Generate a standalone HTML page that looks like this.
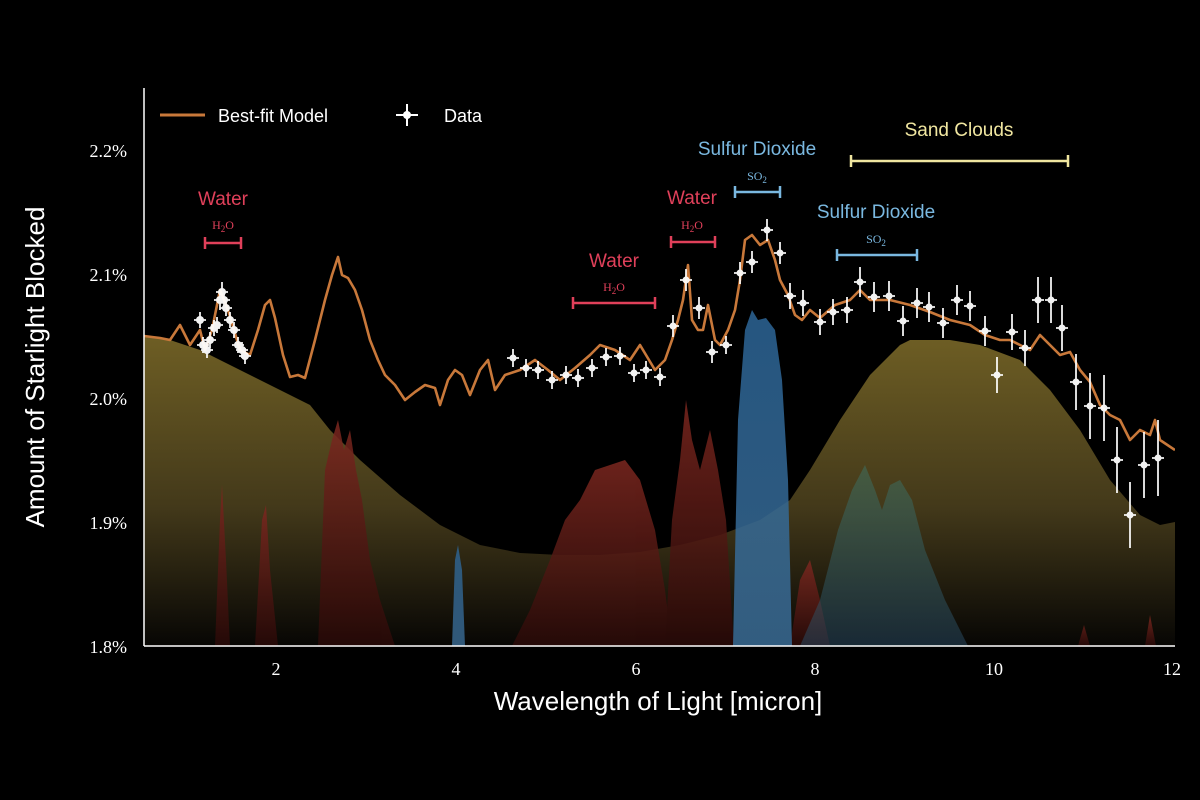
<!DOCTYPE html>
<html><head><meta charset="utf-8"><style>
html,body{margin:0;padding:0;background:#000;}
svg{display:block}
.s{font-family:"Liberation Sans","DejaVu Sans",sans-serif}
.r{font-family:"Liberation Serif",serif}
</style></head><body>
<svg width="1200" height="800" viewBox="0 0 1200 800" xmlns="http://www.w3.org/2000/svg">
<defs>
<linearGradient id="sand" x1="0" y1="0" x2="0" y2="1"><stop offset="0" stop-color="#6e5e24"/><stop offset="0.55" stop-color="#43391a"/><stop offset="1" stop-color="#070604"/></linearGradient>
<linearGradient id="red" x1="0" y1="0" x2="0" y2="1"><stop offset="0" stop-color="#7e2820"/><stop offset="1" stop-color="#2a0a08"/></linearGradient>
<linearGradient id="blue" x1="0" y1="0" x2="0" y2="1"><stop offset="0" stop-color="#2c6596"/><stop offset="1" stop-color="#3a6c96"/></linearGradient>
<linearGradient id="teal" x1="0" y1="0" x2="0" y2="1"><stop offset="0" stop-color="#3d7466"/><stop offset="1" stop-color="#2a4c66"/></linearGradient>
<clipPath id="c"><rect x="144" y="88" width="1031" height="558"/></clipPath>
</defs>
<rect width="1200" height="800" fill="#000"/>
<g clip-path="url(#c)">
<path fill="url(#sand)" d="M144,336 L170,340 200,350 240,370 280,390 310,405 330,430 360,460 400,495 440,525 480,545 520,553 560,555 600,555 640,552 680,545 720,535 760,520 790,500 810,470 840,420 870,375 900,345 910,340 950,340 980,345 1020,360 1050,390 1080,430 1110,480 1140,515 1160,525 1175,522 L1175,646 144,646Z"/>
<g fill="url(#red)" opacity="0.85">
<path d="M215,646 L220,520 222,485 226,560 230,646Z"/>
<path d="M255,646 L262,520 266,505 270,570 278,646Z"/>
<path d="M318,646 L325,470 332,440 338,420 344,450 350,430 356,470 362,500 370,560 380,600 395,646Z"/>
<path d="M512,646 L530,610 550,560 565,520 580,500 595,470 610,465 625,460 640,480 655,530 665,590 672,646Z"/>
<path d="M665,646 L672,520 680,460 686,400 692,440 700,470 710,430 718,470 726,520 734,646Z"/>
<path d="M790,646 L800,580 810,560 820,600 830,646Z"/>
<path d="M1078,646 L1084,625 1090,646Z M1145,646 L1150,615 1156,646Z"/>
</g>
<path fill="url(#blue)" opacity="0.85" d="M733,646 L738,420 745,330 752,310 758,320 766,318 775,330 782,380 788,480 792,646Z"/>
<path fill="url(#blue)" opacity="0.8" d="M452,646 L455,560 458,545 462,570 465,646Z"/>
<path fill="url(#teal)" opacity="0.5" d="M800,646 L820,600 838,530 852,490 865,465 875,490 882,510 890,485 900,480 912,500 925,550 945,600 968,646Z"/>
<polyline fill="none" stroke="#c8783a" stroke-width="2.6" stroke-linejoin="round" points="144,336 160,338 170,340 180,325 190,345 200,330 205,350 212,330 220,290 228,310 240,350 250,355 258,330 265,305 270,300 275,318 283,355 290,377 298,375 305,378 315,340 325,300 332,275 338,257 342,275 348,278 355,290 362,310 370,340 378,360 385,375 395,385 405,400 415,392 425,385 435,388 440,405 448,380 455,370 462,375 470,395 480,370 488,360 495,390 505,375 520,370 535,360 548,370 560,380 575,368 590,355 600,345 615,350 630,360 640,345 655,370 665,360 672,340 678,320 683,300 688,265 692,320 698,330 703,330 708,305 715,340 720,345 728,330 735,310 740,280 745,240 752,235 760,245 768,240 775,260 780,280 788,295 795,315 802,320 810,310 820,318 835,305 850,300 860,290 870,300 890,300 910,305 930,312 950,320 970,325 985,335 1000,340 1010,340 1020,345 1030,350 1040,335 1050,345 1060,355 1070,352 1080,370 1090,382 1100,405 1110,415 1120,420 1130,440 1140,430 1150,435 1155,420 1160,440 1175,450"/>
<g stroke="#fff" stroke-width="1.8" fill="#fff" opacity="0.95">
<path fill="none" d="M200,312V328M194,320H206 M203,337V353M197,345H209 M207,342V358M201,350H213 M210,332V348M204,340H216 M214,320V336M208,328H220 M217,317V333M211,325H223 M220,290V310M214,300H226 M222,282V302M216,292H228 M224,290V310M218,300H230 M226,300V316M220,308H232 M230,312V328M224,320H236 M234,322V338M228,330H240 M238,337V353M232,345H244 M242,342V358M236,350H248 M245,348V364M239,356H251
M513,349V367M507,358H519 M526,359V377M520,368H532 M538,361V379M532,370H544 M552,371V389M546,380H558 M566,366V384M560,375H572 M578,369V387M572,378H584 M592,359V377M586,368H598 M606,348V366M600,357H612 M620,347V365M614,356H626 M634,364V382M628,373H640 M646,361V379M640,370H652 M660,368V386M654,377H666
M673,315V337M667,326H679 M686,269V291M680,280H692 M699,297V319M693,308H705 M712,341V363M706,352H718 M726,336V354M720,345H732 M740,262V284M734,273H746 M752,251V273M746,262H758 M767,219V241M761,230H773 M780,242V264M774,253H786
M790,283V309M784,296H796 M803,290V316M797,303H809 M820,309V335M814,322H826 M833,299V325M827,312H839 M847,297V323M841,310H853 M860,267V297M854,282H866 M874,282V312M868,297H880 M889,281V311M883,296H895 M903,306V336M897,321H909 M917,288V318M911,303H923 M929,292V322M923,307H935 M943,308V338M937,323H949 M957,285V315M951,300H963 M970,291V321M964,306H976 M985,316V346M979,331H991 M997,357V393M991,375H1003 M1012,314V350M1006,332H1018 M1025,330V366M1019,348H1031
M1038,277V323M1032,300H1044 M1051,277V323M1045,300H1057 M1062,305V351M1056,328H1068 M1076,354V410M1070,382H1082 M1090,373V439M1084,406H1096 M1104,375V441M1098,408H1110 M1117,427V493M1111,460H1123 M1130,482V548M1124,515H1136 M1144,432V498M1138,465H1150 M1158,420V496M1152,458H1164"/>
<g stroke="none">
<circle cx="200" cy="320" r="4"/><circle cx="203" cy="345" r="4"/><circle cx="207" cy="350" r="4"/><circle cx="210" cy="340" r="4"/><circle cx="214" cy="328" r="4"/><circle cx="217" cy="325" r="4"/><circle cx="220" cy="300" r="4"/><circle cx="222" cy="292" r="4"/><circle cx="224" cy="300" r="4"/><circle cx="226" cy="308" r="4"/><circle cx="230" cy="320" r="4"/><circle cx="234" cy="330" r="4"/><circle cx="238" cy="345" r="4"/><circle cx="242" cy="350" r="4"/><circle cx="245" cy="356" r="4"/>
<circle cx="513" cy="358" r="3.5"/><circle cx="526" cy="368" r="3.5"/><circle cx="538" cy="370" r="3.5"/><circle cx="552" cy="380" r="3.5"/><circle cx="566" cy="375" r="3.5"/><circle cx="578" cy="378" r="3.5"/><circle cx="592" cy="368" r="3.5"/><circle cx="606" cy="357" r="3.5"/><circle cx="620" cy="356" r="3.5"/><circle cx="634" cy="373" r="3.5"/><circle cx="646" cy="370" r="3.5"/><circle cx="660" cy="377" r="3.5"/>
<circle cx="673" cy="326" r="3.5"/><circle cx="686" cy="280" r="3.5"/><circle cx="699" cy="308" r="3.5"/><circle cx="712" cy="352" r="3.5"/><circle cx="726" cy="345" r="3.5"/><circle cx="740" cy="273" r="3.5"/><circle cx="752" cy="262" r="3.5"/><circle cx="767" cy="230" r="3.5"/><circle cx="780" cy="253" r="3.5"/>
<circle cx="790" cy="296" r="3.5"/><circle cx="803" cy="303" r="3.5"/><circle cx="820" cy="322" r="3.5"/><circle cx="833" cy="312" r="3.5"/><circle cx="847" cy="310" r="3.5"/><circle cx="860" cy="282" r="3.5"/><circle cx="874" cy="297" r="3.5"/><circle cx="889" cy="296" r="3.5"/><circle cx="903" cy="321" r="3.5"/><circle cx="917" cy="303" r="3.5"/><circle cx="929" cy="307" r="3.5"/><circle cx="943" cy="323" r="3.5"/><circle cx="957" cy="300" r="3.5"/><circle cx="970" cy="306" r="3.5"/><circle cx="985" cy="331" r="3.5"/><circle cx="997" cy="375" r="3.5"/><circle cx="1012" cy="332" r="3.5"/><circle cx="1025" cy="348" r="3.5"/>
<circle cx="1038" cy="300" r="3.5"/><circle cx="1051" cy="300" r="3.5"/><circle cx="1062" cy="328" r="3.5"/><circle cx="1076" cy="382" r="3.5"/><circle cx="1090" cy="406" r="3.5"/><circle cx="1104" cy="408" r="3.5"/><circle cx="1117" cy="460" r="3.5"/><circle cx="1130" cy="515" r="3.5"/><circle cx="1144" cy="465" r="3.5"/><circle cx="1158" cy="458" r="3.5"/>
</g>
</g>
</g>
<line x1="144" y1="88" x2="144" y2="646" stroke="#fff" stroke-width="1.5"/>
<line x1="144" y1="646" x2="1175" y2="646" stroke="#fff" stroke-width="1.5"/>
<g class="r" fill="#fff" font-size="18" text-anchor="end">
<text x="127" y="157">2.2%</text><text x="127" y="281">2.1%</text><text x="127" y="405">2.0%</text><text x="127" y="529">1.9%</text><text x="127" y="653">1.8%</text>
</g>
<g class="r" fill="#fff" font-size="18" text-anchor="middle">
<text x="276" y="675">2</text><text x="456" y="675">4</text><text x="636" y="675">6</text><text x="815" y="675">8</text><text x="994" y="675">10</text><text x="1172" y="675">12</text>
</g>
<text class="s" x="658" y="710" fill="#fff" font-size="26" text-anchor="middle">Wavelength of Light [micron]</text>
<text class="s" transform="translate(44,367) rotate(-90)" fill="#fff" font-size="26" text-anchor="middle">Amount of Starlight Blocked</text>
<line x1="160" y1="115" x2="205" y2="115" stroke="#c8783a" stroke-width="3"/>
<text class="s" x="218" y="122" fill="#fff" font-size="18">Best-fit Model</text>
<g stroke="#fff" stroke-width="2"><line x1="396" y1="115" x2="418" y2="115"/><line x1="407" y1="104" x2="407" y2="126"/></g><circle cx="407" cy="115" r="4" fill="#fff"/>
<text class="s" x="444" y="122" fill="#fff" font-size="18">Data</text>
<g class="s" font-size="19" text-anchor="middle">
<text x="223" y="205" fill="#e0405a">Water</text>
<text x="614" y="267" fill="#e0405a">Water</text>
<text x="692" y="204" fill="#e0405a">Water</text>
<text x="757" y="155" fill="#7ab8e0">Sulfur Dioxide</text>
<text x="876" y="218" fill="#7ab8e0">Sulfur Dioxide</text>
<text x="959" y="136" fill="#f0e6a0">Sand Clouds</text>
</g>
<g class="r" font-size="12" text-anchor="middle">
<text x="223" y="229" fill="#e0405a">H<tspan font-size="9" dy="3">2</tspan><tspan dy="-3">O</tspan></text>
<text x="614" y="291" fill="#e0405a">H<tspan font-size="9" dy="3">2</tspan><tspan dy="-3">O</tspan></text>
<text x="692" y="229" fill="#e0405a">H<tspan font-size="9" dy="3">2</tspan><tspan dy="-3">O</tspan></text>
<text x="757" y="180" fill="#7ab8e0">SO<tspan font-size="9" dy="3">2</tspan></text>
<text x="876" y="243" fill="#7ab8e0">SO<tspan font-size="9" dy="3">2</tspan></text>
</g>
<g stroke-width="2.5" fill="none">
<path stroke="#e0405a" d="M205,243H241M205,237V249M241,237V249"/>
<path stroke="#e0405a" d="M573,303H655M573,297V309M655,297V309"/>
<path stroke="#e0405a" d="M671,242H715M671,236V248M715,236V248"/>
<path stroke="#7ab8e0" d="M735,192H780M735,186V198M780,186V198"/>
<path stroke="#7ab8e0" d="M837,255H917M837,249V261M917,249V261"/>
<path stroke="#f0e6a0" d="M851,161H1068M851,155V167M1068,155V167"/>
</g>
</svg>
</body></html>
